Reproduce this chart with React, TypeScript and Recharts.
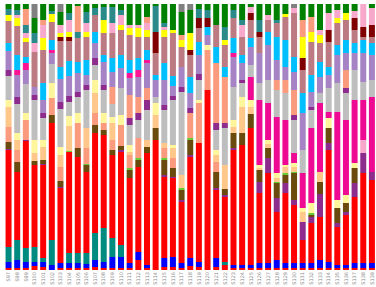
import { Bar, BarChart, XAxis, YAxis } from "recharts";

// sample ids on the x axis
const SAMPLES = [
  "S97", "S98", "S99", "S100", "S101", "S102", "S103", "S104", "S105", "S106",
  "S107", "S108", "S109", "S110", "S111", "S112", "S113", "S114", "S115", "S116",
  "S117", "S118", "S119", "S120", "S121", "S122", "S123", "S124", "S125", "S126",
  "S127", "S128", "S129", "S130", "S131", "S132", "S133", "S134", "S135", "S136",
  "S137", "S138", "S139",
];

// relative abundance per taxon (bottom of stack first)
const br = [2,2,2,4,3,0,2,2,2,2, 3,2,2,2,2,10,2,5,3,3, 2,4,3,0,3,5,2,2,2,2, 2,2,2,2,2,2,2,2,2,2, 2,2,2];
const bl = [6,8,6,4,5,5,5,5,5,4, 7,6,11,11,5,8,3,0,9,10, 5,8,5,0,9,0,3,3,3,5, 5,8,5,5,5,5,8,6,3,3, 5,5,5];
const te = [15,20,14,15,4,25,0,10,10,11, 27,34,19,12,0,0,0,0,0,0, 0,0,0,0,0,3,0,0,0,0, 0,0,0,0,0,0,0,0,0,0, 0,0,0];
const rd = [97,68,107,82,93,117,75,101,96,81, 100,93,83,93,85,85,112,125,81,79, 61,101,119,180,68,65,115,120,137,70, 90,48,70,58,23,40,43,112,38,50, 66,90,83];
const pu = [1,0,1,0,1,0,1,0,0,0, 0,0,0,2,0,0,0,0,2,1, 2,2,0,0,2,2,2,0,0,11, 15,14,10,5,18,6,23,7,4,3, 14,20,8];
const bn = [7,10,0,4,4,8,6,0,9,7, 8,5,5,4,8,7,6,12,15,9, 10,15,0,0,16,6,15,12,14,12, 10,15,8,27,0,2,12,15,15,9, 15,0,0];
const gl = [0,0,0,0,0,0,0,1,0,1, 0,0,0,0,2,2,0,0,2,0, 2,2,0,0,0,0,0,0,0,0, 0,1,2,1,0,2,0,0,0,0, 0,0,0];
const sa = [15,12,20,0,0,17,14,0,25,16, 12,7,10,21,13,20,0,0,10,10, 0,25,40,40,10,0,0,0,0,0, 0,0,0,0,0,0,0,0,0,0, 0,0,0];
const pe = [20,10,0,8,13,0,12,25,0,20, 20,0,17,0,3,0,7,13,5,10, 13,0,0,0,7,24,6,26,7,2, 4,4,6,5,10,0,10,0,0,0, 0,0,0];
const ly = [7,7,7,13,7,15,8,10,10,0, 13,10,6,10,7,0,0,12,0,3, 0,0,3,5,5,0,7,10,7,3, 4,5,2,4,4,10,0,10,8,8, 5,0,0];
const lp = [0,0,0,0,0,0,0,0,0,0, 0,0,0,0,0,0,0,0,0,0, 0,0,0,0,0,0,0,0,0,0, 0,0,0,0,0,0,0,0,0,0, 0,13,0];
const mg = [0,0,0,0,0,0,0,0,0,0, 0,0,0,0,0,0,0,0,0,0, 0,0,0,0,0,0,0,0,23,65, 37,56,45,10,35,75,69,6,88,75, 63,40,75];
const gy = [24,29,29,40,22,19,38,14,16,38, 15,23,13,27,20,18,30,6,33,45, 83,0,20,0,20,37,33,14,12,17, 23,27,27,33,23,18,10,24,29,27, 30,18,17];
const pu2 = [6,7,0,5,5,0,7,6,5,5, 7,5,0,0,7,7,10,0,5,4, 5,5,6,0,7,5,0,3,0,0, 0,0,0,5,0,3,0,0,0,5, 0,0,0];
const sa2 = [0,0,0,0,0,0,0,0,0,0, 0,0,17,0,23,16,12,0,0,0, 0,0,0,0,60,46,0,0,0,0, 0,10,13,25,0,0,0,0,0,18, 0,0,0];
const lv = [19,22,14,8,13,11,23,20,19,10, 15,23,15,20,17,20,25,17,25,10, 20,15,19,10,0,0,30,17,18,30, 35,20,13,18,37,15,16,13,28,17, 17,29,25];
const hp = [0,5,7,0,0,3,0,0,0,0, 0,0,0,0,5,7,3,0,0,0, 0,0,0,0,0,0,4,0,0,0, 0,0,0,0,0,0,0,0,0,0, 0,0,0];
const ds = [8,15,6,0,17,10,12,15,11,15, 11,7,14,13,13,12,10,5,17,10, 0,16,13,8,16,10,15,8,9,0, 13,23,27,15,20,17,15,8,10,13, 10,13,12];
const ro = [22,29,15,35,33,18,26,20,24,23, 17,22,25,25,25,21,13,22,26,43, 20,22,14,0,22,22,20,18,18,16, 12,14,23,44,23,33,19,25,22,20, 13,3,6];
const dr = [0,0,0,0,0,0,4,4,0,0, 0,0,0,0,0,0,0,21,0,0, 0,5,10,9,0,0,0,0,7,5, 0,0,0,0,12,0,0,12,0,0, 12,10,12];
const ye = [6,8,4,0,12,8,4,5,0,5, 0,13,0,5,7,9,7,0,7,3, 7,17,0,0,0,5,0,0,0,0, 0,0,3,0,21,10,8,0,5,7, 0,0,0];
const pk = [0,3,5,9,13,0,8,12,0,9, 0,0,10,10,3,3,7,0,3,0, 0,0,0,0,0,0,0,12,6,0, 5,0,0,5,0,0,5,17,8,0, 7,23,17];
const dt = [6,5,8,10,0,3,0,7,6,11, 7,13,16,5,0,0,0,26,4,0, 0,0,9,8,0,13,8,5,0,12, 0,3,0,0,0,0,0,0,0,0, 0,0,0];
const sa3 = [0,0,16,0,5,0,0,0,26,0, 0,0,0,0,0,0,6,0,0,0, 5,0,0,0,0,0,0,0,0,0, 0,0,0,0,17,15,0,0,0,0, 0,0,0];
const gn = [5,6,5,15,16,7,13,9,2,8, 4,3,3,6,21,21,13,2,19,26, 23,23,5,6,21,23,6,16,3,16, 11,16,10,0,16,13,26,9,6,9, 7,0,4];
const gt = [0,0,0,14,0,0,8,0,0,0, 0,0,0,0,0,0,0,0,0,0, 8,6,0,0,0,0,0,0,0,0, 0,0,0,4,0,0,0,0,0,0, 0,0,0];

const SERIES = [
  { key: "br", color: "#ff0000", values: br },
  { key: "bl", color: "#0000ff", values: bl },
  { key: "te", color: "#008b80", values: te },
  { key: "rd", color: "#ff0000", values: rd },
  { key: "pu", color: "#8e2c8e", values: pu },
  { key: "bn", color: "#6b4a0e", values: bn },
  { key: "gl", color: "#66cc33", values: gl },
  { key: "sa", color: "#fa9b7e", values: sa },
  { key: "pe", color: "#ffc78a", values: pe },
  { key: "ly", color: "#fff59a", values: ly },
  { key: "lp", color: "#f7a8cb", values: lp },
  { key: "mg", color: "#ee0a92", values: mg },
  { key: "gy", color: "#bebebe", values: gy },
  { key: "pu2", color: "#8e2c8e", values: pu2 },
  { key: "sa2", color: "#fa9b7e", values: sa2 },
  { key: "lv", color: "#a583c4", values: lv },
  { key: "hp", color: "#ff1493", values: hp },
  { key: "ds", color: "#00bfff", values: ds },
  { key: "ro", color: "#bc7a82", values: ro },
  { key: "dr", color: "#800000", values: dr },
  { key: "ye", color: "#ffff00", values: ye },
  { key: "pk", color: "#f7a8cb", values: pk },
  { key: "dt", color: "#2a8a8a", values: dt },
  { key: "sa3", color: "#fa9b7e", values: sa3 },
  { key: "gn", color: "#008000", values: gn },
  { key: "gt", color: "#808080", values: gt },
];

const rows = SAMPLES.map((name, i) => {
  const row: Record<string, string | number> = { name };
  SERIES.forEach((s) => {
    row[s.key] = s.values[i];
  });
  return row;
});

function SampleTick({ x, y, payload }: any) {
  return (
    <text
      x={x}
      y={y}
      transform={`rotate(-90 ${x} ${y})`}
      textAnchor="end"
      dominantBaseline="central"
      fontSize={5}
      fill="#8a8a8a"
      fontFamily="DejaVu Sans"
    >
      {payload.value}
    </text>
  );
}

export default function App() {
  return (
    <div style={{ position: "absolute", left: 0, top: 0, background: "#fff" }}>
      <BarChart
        width={376}
        height={287}
        data={rows}
        stackOffset="expand"
        barCategoryGap="18%"
        margin={{ top: 4, right: 0, left: 4, bottom: 0 }}
      >
        <XAxis
          dataKey="name"
          interval={0}
          height={17}
          tickLine={false}
          axisLine={false}
          tickSize={2}
          tickMargin={0}
          tick={<SampleTick />}
        />
        <YAxis hide domain={[0, 1]} />
        {SERIES.map((s) => (
          <Bar
            key={s.key}
            dataKey={s.key}
            stackId="a"
            fill={s.color}
            isAnimationActive={false}
          />
        ))}
      </BarChart>
    </div>
  );
}
